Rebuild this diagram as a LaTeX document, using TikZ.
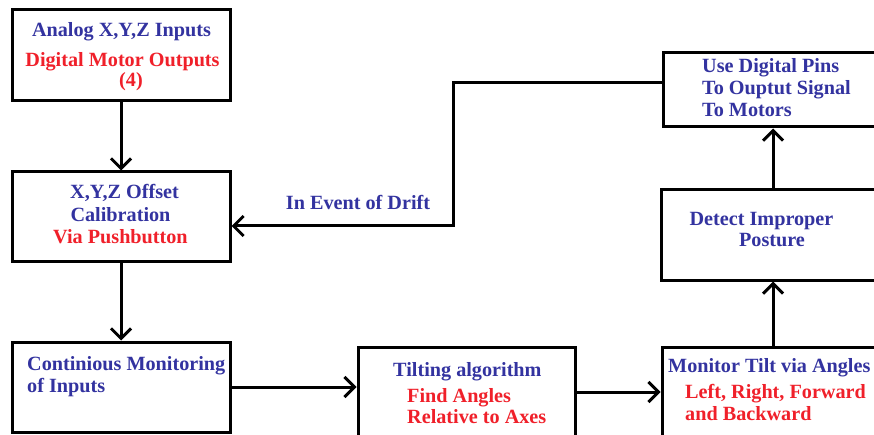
\documentclass[tikz,border=0pt]{standalone}
\usepackage{fontspec}
\setmainfont{Liberation Serif}
\usetikzlibrary{arrows.meta}
\definecolor{tblue}{HTML}{3333A0}
\definecolor{tred}{HTML}{F0202A}
\tikzset{
  box/.style={draw=black, line width=3pt, fill=white, inner sep=0pt},
  arr/.style={draw=black, line width=3pt, -{Straight Barb[length=10pt,width=20pt]}},
  bt/.style={text=tblue, font=\fontsize{20.2}{22}\selectfont\bfseries, inner sep=0pt},
  rt/.style={text=tred, font=\fontsize{20.2}{22}\selectfont\bfseries, inner sep=0pt},
}
\begin{document}
\begin{tikzpicture}[x=1pt,y=-1pt]
\useasboundingbox (0,0) rectangle (874,435);
\fill[white] (0,0) rectangle (874,435);
\clip (0,0) rectangle (874,435);
% boxes
\node[box, minimum width=218pt, minimum height=91pt] (b1) at (121,55.5) {};
\node[box, minimum width=218pt, minimum height=90pt] (b2) at (121,217) {};
\node[box, minimum width=218pt, minimum height=90pt] (b3) at (121,387) {};
\node[box, minimum width=217pt, minimum height=103pt] (tilt) at (466.5,398.5) {};
\node[box, minimum width=228pt, minimum height=103pt] (mon) at (776,398.5) {};
\node[box, minimum width=227pt, minimum height=74pt] (pins) at (776.5,90) {};
\node[box, minimum width=229pt, minimum height=90pt] (det) at (775.5,235) {};
% helper coordinates
\coordinate (r2) at (0,392);
\coordinate (vx) at (773,0);
\coordinate (c1) at (453,83);
\coordinate (c2) at (453,226);
% connectors
\draw[arr] (b1.south) -- (b2.north);
\draw[arr] (b2.south) -- (b3.north);
\draw[arr] (b3.east) -- (b3.east -| tilt.west);
\draw[arr] (tilt.east |- r2) -- (mon.west |- r2);
\draw[arr] (mon.north -| vx) -- (det.south -| vx);
\draw[arr] (det.north -| vx) -- (pins.south -| vx);
\draw[arr, line join=miter] (pins.west |- c1) -- (c1) -- (c2) -- (b2.east |- c2);
% texts
\node[bt, anchor=base] (t1a) at (121.5,37) {Analog X,Y,Z Inputs};
\node[rt, anchor=base] (t1b) at (122.5,67) {Digital Motor Outputs};
\node[rt, anchor=base] (t1c) at (131,87) {(4)};
\node[bt, anchor=base] (t2a) at (124.5,199) {X,Y,Z Offset};
\node[bt, anchor=base] (t2b) at (120.5,222) {Calibration};
\node[rt, anchor=base] (t2c) at (120.5,244) {Via Pushbutton};
\node[bt, anchor=base] (drift) at (358,210) {In Event of Drift};
\node[bt, anchor=base west] (t3a) at (27,370) {Continious Monitoring};
\node[bt, anchor=base west] (t3b) at (27,392) {of Inputs};
\node[bt, anchor=base west] (t4a) at (393,376) {Tilting algorithm};
\node[rt, anchor=base west] (t4b) at (407,402) {Find Angles};
\node[rt, anchor=base west] (t4c) at (407,423) {Relative to Axes};
\node[bt, anchor=base west] (t5a) at (668,372) {Monitor Tilt via Angles};
\node[rt, anchor=base west] (t5b) at (685,398) {Left, Right, Forward};
\node[rt, anchor=base west] (t5c) at (685,420) {and Backward};
\node[bt, anchor=base west] (t6a) at (702,73) {Use Digital Pins};
\node[bt, anchor=base west] (t6b) at (702,95) {To Ouptut Signal};
\node[bt, anchor=base west] (t6c) at (702,117) {To Motors};
\node[bt, anchor=base] (t7a) at (761.5,226) {Detect Improper};
\node[bt, anchor=base] (t7b) at (772,247) {Posture};
\end{tikzpicture}
\end{document}
